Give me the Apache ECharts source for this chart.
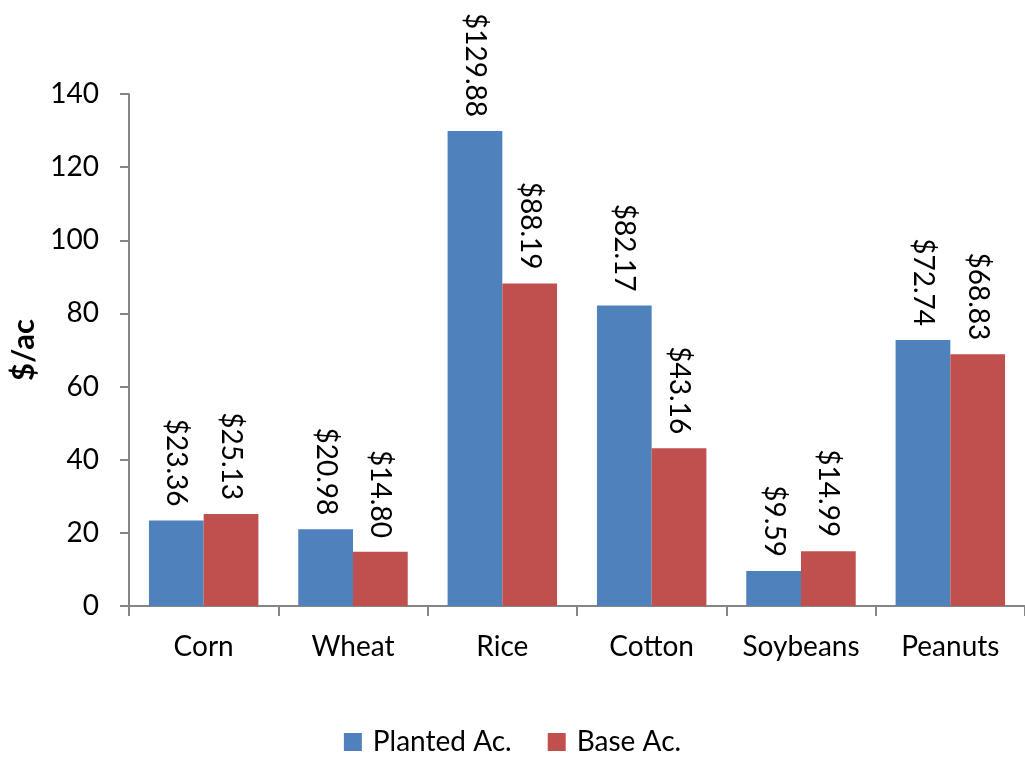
<!DOCTYPE html>
<html>
<head>
<meta charset="utf-8">
<script src="https://cdn.jsdelivr.net/npm/echarts@6/dist/echarts.min.js"></script>
<style>
html,body{margin:0;padding:0;background:#fff;}
#chart{width:1025px;height:761px;}
</style>
</head>
<body>
<div id="chart"></div>
<script>
const categories = ['Corn', 'Wheat', 'Rice', 'Cotton', 'Soybeans', 'Peanuts'];
const plantedAc = [23.36, 20.98, 129.88, 82.17, 9.59, 72.74];
const baseAc = [25.13, 14.80, 88.19, 43.16, 14.99, 68.83];
const seriesNames = ['Planted Ac.', 'Base Ac.'];
const yAxisTitle = '$/ac';

const FONT = 'Lato, "Open Sans", sans-serif';
const chart = echarts.init(document.getElementById('chart'));
const labelCfg = {
  show: true,
  position: 'top',
  rotate: -90,
  align: 'right',
  verticalAlign: 'middle',
  distance: 14,
  fontFamily: FONT,
  fontSize: 28,
  color: '#000',
  formatter: p => '$' + p.value.toFixed(2)
};
chart.setOption({
  animation: false,
  textStyle: { fontFamily: FONT },
  grid: { left: 126, top: 94, right: -3, bottom: 155, containLabel: false },
  legend: {
    bottom: 0,
    left: 'center',
    itemWidth: 18,
    itemHeight: 18,
    itemGap: 36,
    icon: 'rect',
    textStyle: { fontFamily: FONT, fontSize: 28, color: '#000', padding: [0, 0, 0, 6] },
    data: seriesNames
  },
  xAxis: {
    type: 'category',
    data: categories,
    axisLine: { lineStyle: { color: '#868686', width: 2 } },
    axisTick: { show: true, length: 10, inside: false, lineStyle: { color: '#868686', width: 2 } },
    axisLabel: { interval: 0, fontFamily: FONT, fontSize: 28, color: '#000', margin: 27 }
  },
  yAxis: {
    type: 'value',
    min: 0, max: 140, interval: 20,
    name: yAxisTitle,
    nameLocation: 'middle',
    nameGap: 90,
    nameRotate: 90,
    nameTextStyle: { fontFamily: FONT, fontSize: 31, fontWeight: 'bold', color: '#000' },
    axisLine: { show: true, lineStyle: { color: '#868686', width: 2 } },
    axisTick: { show: true, length: 9, lineStyle: { color: '#868686', width: 2 } },
    splitLine: { show: false },
    axisLabel: { fontFamily: FONT, fontSize: 28, color: '#000', margin: 30 }
  },
  series: [
    { name: seriesNames[0], type: 'bar', data: plantedAc, barGap: '0%', barCategoryGap: '26.7%',
      itemStyle: { color: '#4F81BD' }, label: labelCfg },
    { name: seriesNames[1], type: 'bar', data: baseAc, barGap: '0%', barCategoryGap: '26.7%',
      itemStyle: { color: '#C0504D' }, label: labelCfg }
  ]
});
</script>
</body>
</html>
